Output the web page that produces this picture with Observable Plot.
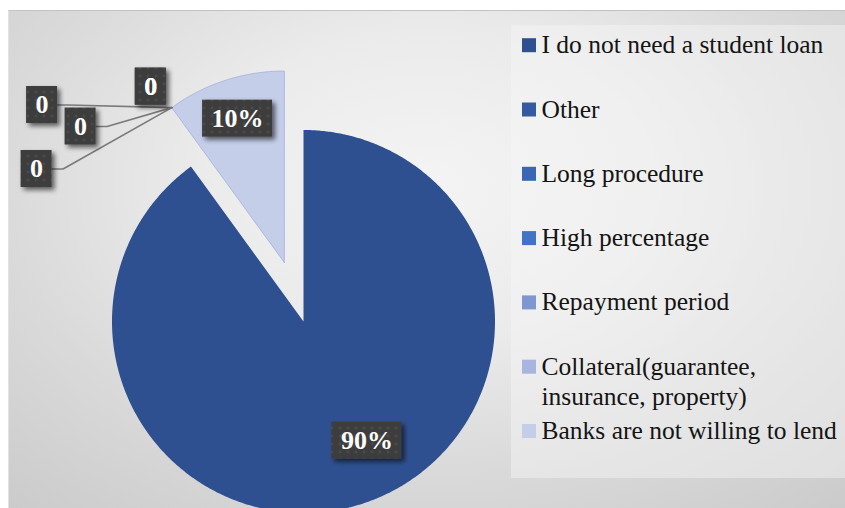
<!DOCTYPE html>
<html>
<head>
<meta charset="utf-8">
<script src="https://cdn.jsdelivr.net/npm/d3@7"></script>
<script src="https://cdn.jsdelivr.net/npm/@observablehq/plot@0.6"></script>
<style>
  html, body { margin: 0; padding: 0; background: #ffffff; }
  #wrap { position: relative; width: 845px; height: 508px; overflow: hidden; }
  #bg {
    position: absolute; left: 8px; top: 10px; width: 837px; height: 498px;
    box-sizing: border-box; border-top: 1px solid #c2c2c2; border-left: 1px solid #e2e2e2;
    background: radial-gradient(ellipse 78% 88% at 50% 35%, #f4f4f4 0%, #ebebeb 35%, #dadada 65%, #cacaca 100%);
  }
  #chart { position: absolute; left: 0; top: 0; }
</style>
</head>
<body>
<div id="wrap"><div id="bg"></div><div id="chart"></div></div>
<script>
// ---------------- data ----------------
const categories = [
  "I do not need a student loan",
  "Other",
  "Long procedure",
  "High percentage",
  "Repayment period",
  "Collateral(guarantee, insurance, property)",
  "Banks are not willing to lend"
];
const values = [90, 0, 0, 0, 0, 0, 10];
const valueLabels = ["90%", "0", "0", "0", "0", "0", "10%"];
const palette = ["#2F5090", "#345A9F", "#3B66B3", "#4472C4", "#7F97D1", "#A8B6DF", "#C4CEE9"];

// ---------------- layout ----------------
const W = 845, H = 508;
const pie = {cx: 303, cy: 321, r: 191.5};
const explodeOffsets = [0, 0, 0, 0, 0, 0, 62];
const labelPolar = {0: {dAngle: -10, rf: 0.705}, 6: {dAngle: 0, rf: 0.79}};
const zeroLabelOffsets = {1: [-21, -21], 2: [-21, -21], 3: [-129.7, -2.6], 4: [-91.2, 18.9], 5: [-135.2, 61.4]};
const legend = {x: 511, y: 25, w: 334, h: 453, firstBase: 52.7, step: 64.3, fontSize: 25.5, lineH: 30.7};
const wrapAt = {5: ", "};
const labelFont = 26;

// ---------------- geometry from data ----------------
const total = d3.sum(values);
let acc = 0;
const slices = values.map((v, i) => {
  const a0 = acc / total * 2 * Math.PI; acc += v;
  const a1 = acc / total * 2 * Math.PI;
  const mid = (a0 + a1) / 2;
  const e = explodeOffsets[i];
  return {i, a0, a1, mid, ox: pie.cx + e * Math.sin(mid), oy: pie.cy - e * Math.cos(mid)};
});

function slicePoints(s) {
  const pts = [{x: s.ox, y: s.oy}];
  const n = Math.max(2, Math.ceil((s.a1 - s.a0) / (Math.PI / 360)));
  for (let j = 0; j <= n; j++) {
    const a = s.a0 + (s.a1 - s.a0) * j / n;
    pts.push({x: s.ox + pie.r * Math.sin(a), y: s.oy - pie.r * Math.cos(a)});
  }
  pts.push({x: s.ox, y: s.oy});
  return pts;
}

const ctx = document.createElement("canvas").getContext("2d");
ctx.font = `bold ${labelFont}px 'Liberation Serif'`;

const labelData = [];
const leaderPts = [];
values.forEach((v, i) => {
  const s = slices[i];
  let x, y, anchor = null;
  if (v > 0) {
    const lp = labelPolar[i];
    const a = s.mid + lp.dAngle * Math.PI / 180;
    x = s.ox + lp.rf * pie.r * Math.sin(a);
    y = s.oy - lp.rf * pie.r * Math.cos(a);
  } else {
    let k = i;
    do { k = (k + 1) % values.length; } while (values[k] <= 0);
    const n = slices[k];
    anchor = [n.ox + pie.r * Math.sin(n.a0), n.oy - pie.r * Math.cos(n.a0)];
    const [dx, dy] = zeroLabelOffsets[i];
    x = anchor[0] + dx; y = anchor[1] + dy;
  }
  const w = ctx.measureText(valueLabels[i]).width + 18, h = 37;
  labelData.push({i, x, y, w, h, text: valueLabels[i]});
  if (anchor) {
    const ex = x + w / 2, ey = y;
    if (Math.hypot(anchor[0] - ex, anchor[1] - ey) > 30) {
      leaderPts.push({k: i, x: ex, y: ey}, {k: i, x: ex + 11, y: ey}, {k: i, x: anchor[0], y: anchor[1]});
    }
  }
});

const legendData = categories.map((c, i) => {
  const lbl = wrapAt[i] ? c.replace(wrapAt[i], ",\n") : c;
  const nLines = lbl.split("\n").length;
  const base = legend.firstBase + i * legend.step;
  return {i, lbl, base, yText: base + (nLines - 1) * legend.lineH, color: palette[i]};
});

// ---------------- marks ----------------
const sliceMarks = slices.filter(s => values[s.i] > 0).map(s =>
  Plot.line(slicePoints(s), {
    x: "x", y: "y", fill: palette[s.i],
    stroke: s.i === 6 ? "#9FB0DC" : "none", strokeWidth: 0.8, curve: "linear"
  })
);

const chart = Plot.plot({
  width: W, height: H,
  margin: 0,
  x: {domain: [0, W], range: [0, W], axis: null},
  y: {domain: [0, H], range: [0, H], axis: null},
  color: {type: "identity"},
  style: {background: "transparent", overflow: "visible"},
  marks: [
    // legend panel
    Plot.rect([legend], {x1: d => d.x, x2: d => d.x + d.w, y1: d => d.y, y2: d => d.y + d.h, fill: "#f6f6f6", fillOpacity: 0.45}),
    Plot.rect(legendData, {x1: legend.x + 11, x2: legend.x + 25, y1: d => d.base - 14.5, y2: d => d.base - 0.5, fill: "color"}),
    Plot.text(legendData, {
      x: legend.x + 30, y: "yText", text: "lbl", textAnchor: "start", lineAnchor: "bottom",
      fontSize: legend.fontSize, fontFamily: "'Liberation Serif', serif", fill: "#141414",
      lineHeight: legend.lineH / legend.fontSize
    }),
    ...sliceMarks,
    Plot.line(leaderPts, {x: "x", y: "y", z: "k", stroke: "#7a7a7a", strokeWidth: 1.6, curve: "linear"}),
    Plot.rect(labelData, {
      x1: d => d.x - d.w / 2, x2: d => d.x + d.w / 2, y1: d => d.y - d.h / 2, y2: d => d.y + d.h / 2,
      fill: "#404040", className: "lblbox"
    }),
    Plot.text(labelData, {
      x: "x", y: "y", text: "text", fill: "white", fontSize: labelFont, fontWeight: "bold",
      fontFamily: "'Liberation Serif', serif", lineAnchor: "middle"
    })
  ]
});

// shadow + dotted texture for data label boxes
const svg = d3.select(chart.tagName.toLowerCase() === "svg" ? chart : chart.querySelector("svg"));
const defs = svg.insert("defs", ":first-child");
const f = defs.append("filter").attr("id", "lblshadow").attr("x", "-30%").attr("y", "-30%").attr("width", "170%").attr("height", "170%");
f.append("feGaussianBlur").attr("in", "SourceAlpha").attr("stdDeviation", 2.5).attr("result", "b");
f.append("feOffset").attr("in", "b").attr("dx", 3).attr("dy", 3).attr("result", "o");
f.append("feComponentTransfer").attr("in", "o").attr("result", "s").append("feFuncA").attr("type", "linear").attr("slope", 0.6);
const m = f.append("feMerge"); m.append("feMergeNode").attr("in", "s"); m.append("feMergeNode").attr("in", "SourceGraphic");
const p = defs.append("pattern").attr("id", "lblpat").attr("patternUnits", "userSpaceOnUse").attr("width", 8).attr("height", 8);
p.append("rect").attr("width", 8).attr("height", 8).attr("fill", "#3d3d3d");
p.append("circle").attr("cx", 4).attr("cy", 4).attr("r", 1.4).attr("fill", "#4b4b4b");
svg.selectAll(".lblbox").attr("fill", "url(#lblpat)").attr("filter", "url(#lblshadow)");
svg.selectAll(".lblbox rect").attr("fill", "url(#lblpat)");

document.getElementById("chart").appendChild(chart);
</script>
</body>
</html>
